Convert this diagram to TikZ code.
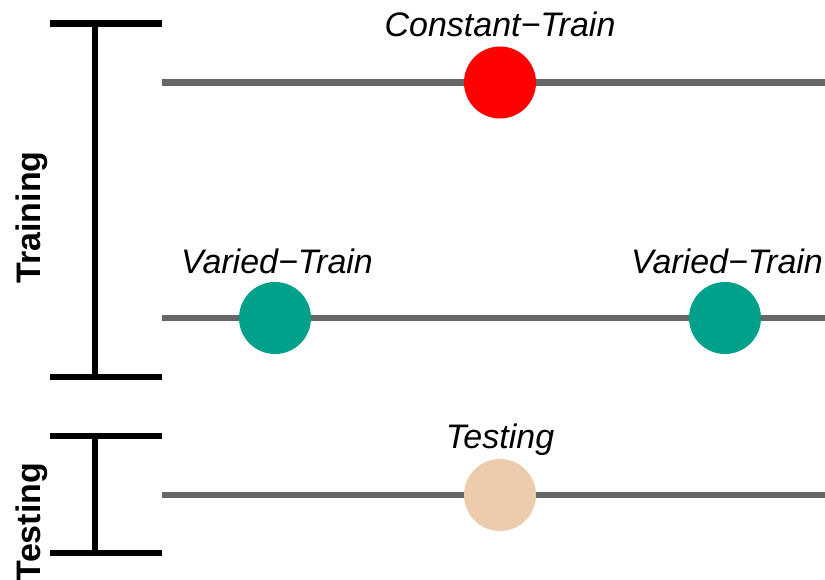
\documentclass[tikz,border=0pt]{standalone}
\usepackage{fontspec}
\setmainfont{Liberation Sans}
\usepackage{xcolor}
\usepackage{tikz}
\usetikzlibrary{positioning}
\definecolor{constred}{RGB}{255,0,0}
\definecolor{variedteal}{RGB}{0,160,138}
\definecolor{testtan}{RGB}{236,204,172}
\definecolor{trackgray}{RGB}{102,102,102}
\tikzset{
  bar/.style={line width=6.5pt, black},
  track/.style={line width=6.5pt, trackgray},
  dot/.style={circle, minimum size=72pt, inner sep=0pt, fill=#1},
  lbl/.style={font=\fontsize{34}{40}\selectfont\itshape, inner sep=0pt, anchor=base},
  side/.style={font=\fontsize{34}{40}\selectfont\bfseries, inner sep=0pt, anchor=base, rotate=90}
}

\begin{document}
\begin{tikzpicture}[x=1pt,y=-1pt]
\useasboundingbox (0,0) rectangle (825,580);
\draw [bar] (50,23.5) -- (162,23.5);
\draw [bar] (50,377) -- (162,377);
\draw [bar] (95,23.5) -- (95,377);
\node [side] (trainside) at (40,217.5) {Training};
\draw [bar] (50,436) -- (162,436);
\draw [bar] (50,553) -- (162,553);
\draw [bar] (95,436) -- (95,553);
\node [side] (testside) at (40,522) {Testing};
\coordinate (constw) at (162,82.5);
\coordinate (conste) at (825,82.5);
\coordinate (variedw) at (162,318);
\coordinate (variede) at (825,318);
\coordinate (testw) at (162,495);
\coordinate (teste) at (825,495);
\draw [track] (constw) -- (conste);
\draw [track] (variedw) -- (variede);
\draw [track] (testw) -- (teste);
\node [dot=constred] (constdot) at (500,82.5) {};
\node [dot=variedteal] (varieddotA) at (275,318) {};
\node [dot=variedteal] (varieddotB) at (725,318) {};
\node [dot=testtan] (testdot) at (500,495) {};
\node [lbl] (constlbl) at (500,37) {Constant−Train};
\node [lbl] (variedlblA) at (277,273) {Varied−Train};
\node [lbl] (variedlblB) at (727,273) {Varied−Train};
\node [lbl] (testlbl) at (500,448) {Testing};
\end{tikzpicture}
\end{document}
